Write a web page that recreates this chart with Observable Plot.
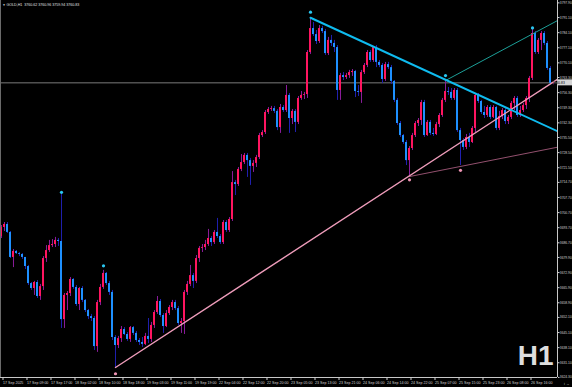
<!DOCTYPE html>
<html><head><meta charset="utf-8">
<script src="https://cdn.jsdelivr.net/npm/d3@7"></script>
<script src="https://cdn.jsdelivr.net/npm/@observablehq/plot@0.6"></script>
<style>
html,body{margin:0;padding:0;background:#000;overflow:hidden}
svg{display:block}
</style></head><body><div id="chart"></div>
<script>
// GOLD H1, 17 Sep 2025 – 26 Sep 2025 (bar index 0 = first bar on the chart)
const closes = [3693.8,3695.2,3691.5,3679.9,3682.7,3681.7,3681.3,3679.9,3675.7,3667.8,
3665.5,3668.3,3661.8,3666.4,3679.4,3683.1,3685.4,3685.9,3687.8,3687.3,
3651.1,3662.3,3663.2,3669.7,3666.0,3658.1,3665.5,3660.0,3655.3,3652.5,
3651.6,3638.6,3659.0,3666.0,3672.5,3667.8,3663.7,3642.8,3639.1,3642.3,
3646.5,3644.2,3641.9,3647.4,3644.7,3641.4,3640.5,3639.6,3643.3,3641.9,
3648.4,3654.4,3659.5,3653.0,3647.9,3653.9,3656.7,3659.0,3656.2,3649.3,
3650.2,3663.7,3667.4,3671.5,3668.8,3679.4,3684.1,3684.5,3685.9,3688.7,
3686.8,3691.5,3689.6,3686.8,3696.1,3692.4,3697.5,3714.6,3713.7,3720.7,
3723.9,3727.2,3724.8,3722.1,3723.5,3726.2,3736.4,3737.8,3747.1,3748.5,
3748.9,3747.6,3740.1,3749.4,3748.0,3755.0,3744.3,3747.6,3742.5,3753.6,
3755.0,3755.4,3774.9,3786.0,3783.2,3780.0,3786.0,3784.6,3774.4,3780.5,
3779.1,3777.2,3757.3,3764.2,3763.3,3764.2,3765.6,3766.1,3756.8,3756.4,
3765.6,3768.9,3774.9,3771.2,3777.2,3770.3,3768.9,3762.4,3769.3,3767.9,
3761.5,3752.7,3742.0,3736.4,3733.2,3724.8,3730.4,3736.4,3742.0,3743.4,
3751.7,3736.4,3742.5,3737.4,3736.9,3741.5,3745.7,3752.7,3756.8,3756.4,
3753.6,3757.3,3738.7,3734.1,3730.9,3735.5,3733.2,3739.7,3755.0,3752.2,
3747.1,3745.7,3749.4,3744.8,3749.4,3739.7,3745.2,3748.0,3742.9,3744.8,
3751.3,3753.6,3745.7,3748.0,3750.3,3753.6,3762.9,3783.7,3774.9,3780.5,
3783.7,3779.1,3767.5,3760.6,3760.83];

const opens = [3689.6,3693.8,3695.2,3691.5,3679.9,3682.7,3681.7,3681.3,3679.9,3675.7,
3667.8,3665.5,3668.3,3661.8,3666.4,3679.4,3683.1,3685.4,3685.9,3687.8,
3687.3,3651.1,3662.3,3663.2,3669.7,3666.0,3658.1,3665.5,3660.0,3655.3,
3652.5,3651.6,3638.6,3659.0,3666.0,3672.5,3667.8,3663.7,3642.8,3639.1,
3642.3,3646.5,3644.2,3641.9,3647.4,3644.7,3641.4,3640.5,3639.6,3643.3,
3641.9,3648.4,3654.4,3659.5,3653.0,3647.9,3653.9,3656.7,3659.0,3656.2,
3649.3,3650.2,3663.7,3667.4,3671.5,3668.8,3679.4,3684.1,3684.5,3685.9,
3688.7,3686.8,3691.5,3689.6,3686.8,3696.1,3692.4,3697.5,3714.6,3713.7,
3720.7,3723.9,3727.2,3724.8,3722.1,3723.5,3726.2,3736.4,3737.8,3747.1,
3748.5,3748.9,3747.6,3740.1,3749.4,3748.0,3755.0,3744.3,3747.6,3742.5,
3753.6,3755.0,3755.4,3774.9,3786.0,3783.2,3780.0,3786.0,3784.6,3774.4,
3780.5,3779.1,3777.2,3757.3,3764.2,3763.3,3764.2,3765.6,3766.1,3756.8,
3756.4,3765.6,3768.9,3774.9,3771.2,3777.2,3770.3,3768.9,3762.4,3769.3,
3767.9,3761.5,3752.7,3742.0,3736.4,3733.2,3724.8,3730.4,3736.4,3742.0,
3743.4,3751.7,3736.4,3742.5,3737.4,3736.9,3741.5,3745.7,3752.7,3756.8,
3756.4,3753.6,3757.3,3738.7,3734.1,3730.9,3735.5,3733.2,3739.7,3755.0,
3752.2,3747.1,3745.7,3749.4,3744.8,3749.4,3739.7,3745.2,3748.0,3742.9,
3744.8,3751.3,3753.6,3745.7,3748.0,3750.3,3753.6,3762.9,3783.7,3774.9,
3780.5,3783.7,3779.1,3767.5,3760.62];

const highs = [3694.7,3696.1,3696.1,3691.9,3683.6,3683.1,3682.2,3681.7,3679.9,3676.2,
3668.3,3668.8,3669.2,3667.4,3680.3,3685.4,3687.8,3688.2,3689.2,3688.7,
3709.5,3663.2,3664.1,3670.6,3670.1,3666.9,3666.0,3666.4,3660.4,3655.8,
3653.5,3652.5,3660.0,3667.4,3673.9,3672.9,3668.8,3664.6,3643.7,3643.3,
3647.9,3647.4,3645.1,3647.9,3647.9,3645.6,3642.3,3642.8,3644.7,3651.6,
3649.8,3655.3,3661.8,3660.4,3653.9,3655.3,3657.6,3660.0,3660.0,3657.2,
3651.6,3664.6,3668.8,3676.2,3672.5,3680.8,3685.0,3685.9,3687.8,3692.9,
3689.6,3692.4,3698.0,3690.5,3697.0,3697.0,3698.4,3719.7,3715.6,3721.6,
3727.6,3728.1,3728.1,3725.8,3724.8,3727.2,3737.4,3738.7,3748.0,3749.4,
3749.9,3749.9,3748.5,3750.8,3750.3,3759.6,3755.9,3748.5,3748.5,3754.5,
3756.8,3756.4,3775.8,3791.1,3788.8,3785.1,3787.4,3787.0,3785.6,3781.9,
3782.8,3780.5,3778.1,3765.2,3765.6,3765.2,3766.6,3767.0,3766.6,3759.6,
3766.6,3769.8,3775.8,3775.8,3777.6,3778.1,3771.2,3769.8,3770.3,3770.3,
3768.9,3761.9,3753.6,3742.9,3736.9,3734.1,3731.3,3737.4,3742.9,3744.3,
3752.7,3752.7,3743.4,3743.4,3739.7,3742.5,3746.6,3753.6,3761.9,3758.7,
3758.2,3758.2,3758.2,3739.7,3735.0,3736.9,3737.4,3740.6,3755.9,3755.9,
3752.7,3749.9,3750.3,3750.3,3750.3,3749.9,3747.6,3748.9,3748.9,3745.7,
3752.2,3754.5,3754.5,3749.9,3751.3,3754.5,3763.8,3785.6,3784.6,3781.4,
3784.6,3784.6,3780.0,3768.4,3760.96];

const lows = [3688.7,3691.9,3691.0,3679.4,3675.2,3681.3,3680.3,3679.0,3674.3,3666.9,
3664.6,3662.3,3660.9,3660.0,3664.6,3677.6,3682.2,3684.5,3684.5,3685.0,
3647.0,3647.0,3655.3,3661.8,3665.1,3657.2,3655.3,3659.0,3654.4,3651.1,
3650.2,3636.8,3635.9,3657.6,3665.1,3666.9,3662.3,3641.4,3628.9,3637.7,
3640.5,3643.7,3641.0,3640.5,3643.7,3640.5,3639.1,3638.2,3639.1,3640.0,
3640.5,3647.0,3653.5,3652.1,3644.7,3647.4,3653.0,3655.3,3655.3,3648.4,
3644.7,3644.2,3662.3,3666.4,3665.5,3667.8,3677.6,3682.2,3683.1,3685.0,
3685.0,3685.9,3688.7,3685.9,3685.9,3691.5,3691.5,3696.6,3708.6,3712.8,
3719.7,3723.0,3717.0,3713.3,3719.3,3721.6,3725.3,3735.5,3736.9,3746.2,
3747.6,3746.6,3738.7,3737.4,3747.1,3747.1,3737.4,3741.5,3737.8,3741.5,
3752.7,3753.1,3753.6,3774.0,3782.3,3778.6,3779.1,3783.7,3773.5,3773.5,
3777.7,3774.9,3752.7,3752.7,3761.9,3762.4,3762.9,3763.8,3754.0,3754.5,
3751.3,3764.7,3767.9,3770.3,3770.3,3767.9,3767.9,3760.5,3761.5,3767.0,
3760.1,3751.7,3741.1,3735.5,3732.3,3722.5,3717.4,3729.5,3735.5,3740.6,
3741.1,3735.5,3736.0,3736.4,3736.0,3736.4,3740.1,3744.8,3751.7,3755.0,
3752.7,3752.7,3737.8,3722.5,3729.5,3729.9,3730.9,3732.7,3737.8,3751.3,
3746.2,3744.3,3744.8,3743.8,3744.3,3738.7,3738.7,3743.8,3741.5,3741.5,
3743.8,3748.0,3744.8,3744.8,3747.1,3748.5,3751.7,3761.9,3774.0,3774.0,
3775.8,3778.1,3766.6,3760.1,3759.94];

const currentPrice = 3760.83;

// fractal markers (bar index, price)
const upFractalBars = [20, 34, 103, 148, 177];
const upFractalPrices = [3710.1, 3676.0, 3793.6, 3764.2, 3786.3];
const downFractalBars = [38, 136, 153];
const downFractalPrices = [3626.0, 3715.9, 3720.3];

// trend lines (anchor bar index, price)
const resistBars = [103, 185.33];   const resistPrices = [3791.0, 3738.4];
const supportBars = [38, 185.33];   const supportPrices = [3628.9, 3762.5];
const upperBars = [148, 185.33];    const upperPrices = [3761.9, 3789.7];
const lowerBars = [136, 185.33];    const lowerPrices = [3717.4, 3731.0];

// axes
const yTicks = [3624.30,3631.10,3638.10,3645.10,3652.10,3658.90,3665.90,3672.90,3679.90,3686.70,
3693.70,3700.70,3707.70,3714.70,3721.50,3728.50,3735.50,3742.30,3749.30,3756.30,
3763.30,3770.10,3777.10,3784.10,3791.10,3797.90];
const xTickBars = [0,8,16,24,32,40,48,56,64,72,80,88,96,104,112,120,128,136,144,152,160,168,176];
const xLabels = ["17 Sep 2025","17 Sep 09:00","17 Sep 17:00","18 Sep 02:00","18 Sep 10:00","18 Sep 18:00",
"19 Sep 03:00","19 Sep 11:00","19 Sep 19:00","22 Sep 04:00","22 Sep 12:00","22 Sep 20:00","23 Sep 05:00",
"23 Sep 13:00","23 Sep 21:00","24 Sep 06:00","24 Sep 14:00","24 Sep 22:00","25 Sep 07:00","25 Sep 15:00",
"25 Sep 23:00","26 Sep 08:00","26 Sep 16:00"];
const titleText = "GOLD,H1  3760.62 3760.96 3759.94 3760.83";
const periodText = "H1";

// build tables
const bars = closes.map((c, i) => ({i, o: opens[i], h: highs[i], l: lows[i], c}));
const pts = (xs, ys) => xs.map((x, k) => ({i: x, p: ys[k]}));

const bull = "#ff1560", bear = "#1e90ff", bullWick = "#8a1c9a", bearWick = "#2020b0";
const xDomain = [-0.33, 185.33], yDomain = [3624.26, 3799.0];
const font = "'Liberation Sans', 'DejaVu Sans', sans-serif";
const fs = 3.3;

const plot = Plot.plot({
  width: 572, height: 387,
  marginLeft: 0, marginRight: 15, marginTop: 0, marginBottom: 10,
  style: {background: "#000", color: "#d0d0d0", fontFamily: font},
  x: {domain: xDomain, axis: null},
  y: {domain: yDomain, axis: null},
  marks: [
    Plot.ruleY([currentPrice], {stroke: "#7a7a7a", strokeWidth: 1}),
    Plot.ruleX(bars, {x: "i", y1: d => Math.min(d.l, d.o, d.c), y2: d => Math.max(d.h, d.o, d.c),
      stroke: d => d.c >= d.o ? bullWick : bearWick, strokeWidth: 1}),
    Plot.ruleX(bars, {x: "i", y1: "o", y2: "c", dx: -0.5,
      stroke: d => d.c >= d.o ? bull : bear, strokeWidth: 2}),
    Plot.line(pts(lowerBars, lowerPrices), {x: "i", y: "p", stroke: "#93506e", strokeWidth: 1, clip: true}),
    Plot.line(pts(upperBars, upperPrices), {x: "i", y: "p", stroke: "#1c9f98", strokeWidth: 1, clip: true}),
    Plot.line(pts(supportBars, supportPrices), {x: "i", y: "p", stroke: "#ee9cba", strokeWidth: 1.4, clip: true}),
    Plot.line(pts(resistBars, resistPrices), {x: "i", y: "p", stroke: "#0fbbef", strokeWidth: 2, clip: true}),
    Plot.dot(pts(upFractalBars, upFractalPrices), {x: "i", y: "p", r: 1.6, fill: "#2ac6f0", stroke: null}),
    Plot.dot(pts(downFractalBars, downFractalPrices), {x: "i", y: "p", r: 1.6, fill: "#f094b4", stroke: null}),
    Plot.ruleY([yDomain[0]], {stroke: "#c8c8c8", strokeWidth: 1}),
    Plot.ruleX([xDomain[1]], {stroke: "#c8c8c8", strokeWidth: 1}),
    Plot.ruleX([xDomain[0]], {stroke: "#6a6a6a", strokeWidth: 1}),
    Plot.axisY({anchor: "right", ticks: yTicks, tickFormat: d => d.toFixed(2), tickSize: 1.5, tickPadding: 0.8,
      fontSize: fs, color: "#d0d0d0"}),
    Plot.axisX({anchor: "bottom", ticks: xTickBars, tickFormat: d => xLabels[xTickBars.indexOf(d)],
      tickSize: 3, tickPadding: 1, textAnchor: "start", dx: 1.5, fontSize: fs + 0.3, color: "#d0d0d0"}),
    Plot.text([titleText], {frameAnchor: "top-left", dx: 6, dy: 3, fontSize: fs + 0.3, fill: "#e0e0e0", textAnchor: "start"}),
    Plot.text(["▼"], {frameAnchor: "top-left", dx: 2, dy: 3.3, fontSize: 3, fill: "#e0e0e0", textAnchor: "start"}),
    Plot.text([periodText], {frameAnchor: "bottom-right", dx: -4, dy: -13, fontSize: 28, fontWeight: "bold",
      fill: "#dedede", textAnchor: "end", lineAnchor: "bottom"})
  ]
});

// current price label on the price axis
const ys = plot.scale("y"), xs = plot.scale("x");
const py = ys.apply(currentPrice), px = xs.apply(xDomain[1]);
const g = d3.select(plot).append("g");
g.append("rect").attr("x", px + 1).attr("y", py - 3).attr("width", 14).attr("height", 6).attr("fill", "#d4d4d4");
g.append("text").attr("x", px + 1.8).attr("y", py).attr("dy", "0.35em").attr("font-size", fs)
  .attr("font-family", font).attr("fill", "#000").text(currentPrice.toFixed(2));

document.getElementById("chart").appendChild(plot);
</script>
</body></html>
